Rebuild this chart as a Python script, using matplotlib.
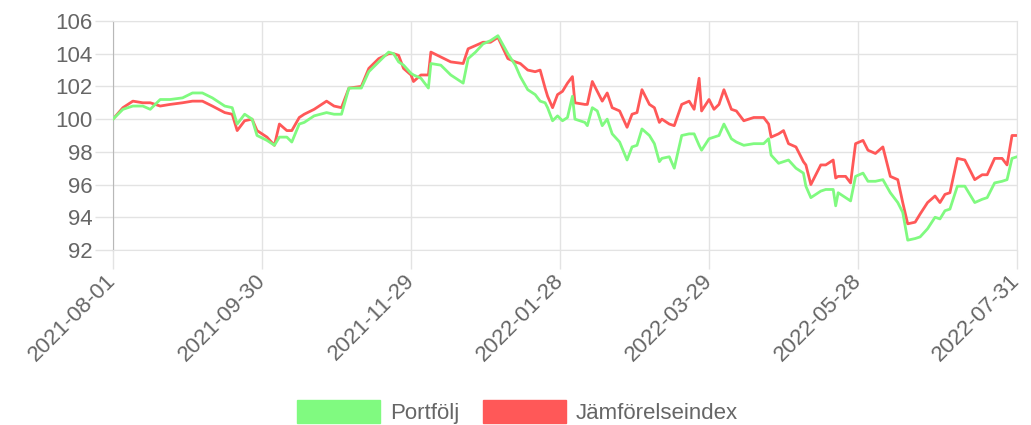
import pandas as pd
import matplotlib.pyplot as plt
import matplotlib.dates as mdates
from matplotlib.patches import Patch

plt.rcParams['font.family'] = ['Liberation Sans', 'DejaVu Sans']

start = pd.Timestamp("2021-08-01")

# dagar efter startdatum
dag = [0, 4, 8, 12, 15, 19, 23, 28, 32, 36, 40, 45, 48, 50, 53, 56, 58, 62, 65, 67,
       70, 72, 75, 77, 81, 86, 89, 92, 95, 100, 103, 107, 111, 113, 115, 117, 120, 121, 124, 127,
       128, 132, 136, 141, 143, 146, 149, 152, 155, 159, 162, 164, 167, 170, 172, 174, 175, 177, 179, 181,
       183, 185, 186, 190, 191, 193, 195, 197, 199, 201, 204, 207, 209, 211, 213, 216, 218, 220, 221, 224,
       226, 229, 232, 234, 236, 237, 240, 242, 244, 246, 249, 251, 254, 258, 262, 264, 265, 268, 270, 272,
       275, 278, 279, 281, 285, 287, 290, 291, 292, 295, 297, 299, 302, 304, 307, 310, 313, 316, 318, 320,
       323, 325, 328, 331, 333, 335, 337, 340, 343, 347, 350, 352, 355, 358, 360, 362, 364]

portfolj = [100.0, 100.6, 100.8, 100.8, 100.6, 101.2, 101.2, 101.3, 101.6, 101.6, 101.3, 100.8, 100.7, 99.7, 100.3, 100.0, 99.0, 98.7, 98.4, 98.9,
            98.9, 98.6, 99.7, 99.8, 100.2, 100.4, 100.3, 100.3, 101.9, 101.9, 102.9, 103.5, 104.1, 104.0, 103.5, 103.3, 102.8, 102.7, 102.5, 101.9,
            103.4, 103.3, 102.7, 102.2, 103.7, 104.1, 104.6, 104.8, 105.1, 104.0, 103.3, 102.6, 101.8, 101.5, 101.1, 101.0, 100.7, 99.9, 100.2, 99.9,
            100.1, 101.4, 100.0, 99.8, 99.6, 100.7, 100.5, 99.6, 100.0, 99.1, 98.6, 97.5, 98.3, 98.4, 99.4, 99.0, 98.5, 97.4, 97.6, 97.7,
            97.0, 99.0, 99.1, 99.1, 98.4, 98.1, 98.8, 98.9, 99.0, 99.7, 98.8, 98.6, 98.4, 98.5, 98.5, 98.8, 97.8, 97.3, 97.4, 97.5,
            97.0, 96.7, 95.9, 95.2, 95.6, 95.7, 95.7, 94.7, 95.5, 95.2, 95.0, 96.5, 96.7, 96.2, 96.2, 96.3, 95.5, 94.9, 94.3, 92.6,
            92.7, 92.8, 93.3, 94.0, 93.9, 94.4, 94.5, 95.9, 95.9, 94.9, 95.1, 95.2, 96.1, 96.2, 96.3, 97.6, 97.7]

jamforelse = [100.0, 100.7, 101.1, 101.0, 101.0, 100.8, 100.9, 101.0, 101.1, 101.1, 100.8, 100.4, 100.3, 99.3, 99.9, 100.0, 99.3, 98.9, 98.4, 99.7,
              99.3, 99.3, 100.1, 100.3, 100.6, 101.1, 100.8, 100.7, 101.9, 102.0, 103.1, 103.7, 104.0, 104.0, 103.9, 103.1, 102.7, 102.3, 102.7, 102.7,
              104.1, 103.8, 103.5, 103.4, 104.3, 104.5, 104.7, 104.7, 105.0, 103.7, 103.5, 103.4, 103.0, 102.9, 103.0, 101.9, 101.4, 100.7, 101.5, 101.7,
              102.2, 102.6, 101.0, 100.9, 100.9, 102.3, 101.7, 101.1, 101.6, 100.7, 100.5, 99.5, 100.3, 100.4, 101.8, 100.9, 100.7, 99.8, 100.0, 99.7,
              99.6, 100.9, 101.1, 100.6, 102.5, 100.5, 101.2, 100.6, 100.9, 101.8, 100.6, 100.5, 99.9, 100.1, 100.1, 99.7, 98.9, 99.1, 99.3, 98.5,
              98.3, 97.4, 97.2, 96.0, 97.2, 97.2, 97.5, 96.4, 96.5, 96.5, 96.1, 98.5, 98.7, 98.1, 97.9, 98.3, 96.5, 96.3, 94.9, 93.6,
              93.7, 94.2, 94.9, 95.3, 94.9, 95.4, 95.5, 97.6, 97.5, 96.3, 96.6, 96.6, 97.6, 97.6, 97.2, 99.0, 99.0]

tick_datum = ["2021-08-01", "2021-09-30", "2021-11-29", "2022-01-28", "2022-03-29", "2022-05-28", "2022-07-31"]

datum = start + pd.to_timedelta(dag, unit="D")

gron = "#80fa80"
rod = "#ff5858"
grid = "#e3e3e3"
text = "#666666"

fig = plt.figure(figsize=(10.31, 4.25), dpi=100)
ax = fig.add_axes([0.1096, 0.4118, 0.8768, 0.5388])

ax.plot(datum, jamforelse, color=rod, lw=2, zorder=2)
ax.plot(datum, portfolj, color=gron, lw=2, zorder=3)

ax.set_xlim(start, pd.Timestamp("2022-07-31"))
ax.set_ylim(92, 106)
ax.set_yticks(range(92, 107, 2))
ax.set_xticks(pd.to_datetime(tick_datum))
ax.xaxis.set_major_formatter(mdates.DateFormatter("%Y-%m-%d"))

ax.grid(True, color=grid, lw=1)
ax.set_axisbelow(True)
for s in ["top", "right", "bottom"]:
    ax.spines[s].set_color(grid)
ax.spines["left"].set_color("#b8b8b8")
ax.tick_params(axis="both", colors=grid, width=1, labelcolor=text, labelsize=16)
ax.tick_params(axis="y", length=13, pad=2)
ax.tick_params(axis="x", length=14, pad=6)
for lbl in ax.get_xticklabels():
    lbl.set_rotation(45)
    lbl.set_ha("right")
    lbl.set_va("center")
    lbl.set_rotation_mode("anchor")

handles = [Patch(facecolor=gron, edgecolor=gron), Patch(facecolor=rod, edgecolor=rod)]
fig.legend(handles, ["Portfölj", "Jämförelseindex"], loc="center", bbox_to_anchor=(0.502, 0.031),
           ncol=2, frameon=False, fontsize=16, labelcolor=text, handlelength=3.7, handleheight=1.2,
           handletextpad=0.45, columnspacing=1.1)

fig.savefig("out.png", dpi=100)
